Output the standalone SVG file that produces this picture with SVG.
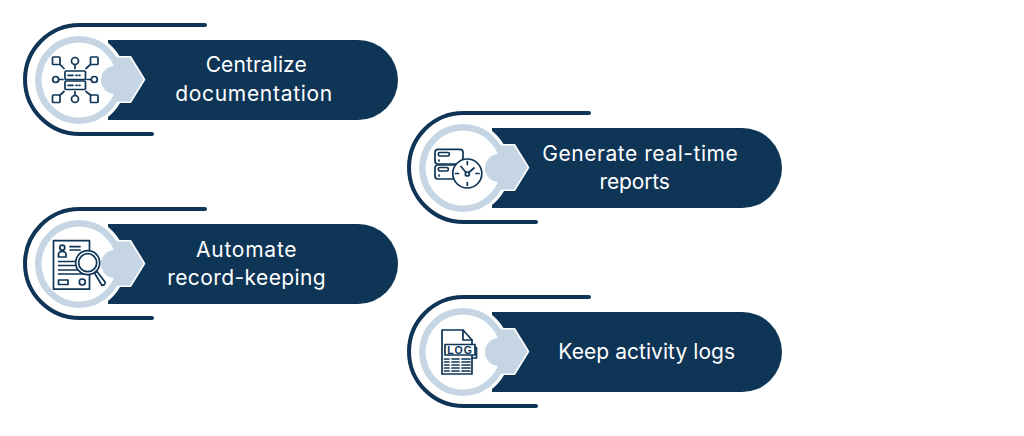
<svg xmlns="http://www.w3.org/2000/svg" width="1024" height="436" viewBox="0 0 1024 436">
<style>
.lbl{font-family:"Inter","Liberation Sans",sans-serif;font-size:21px;fill:#fff;text-anchor:middle}
.i{fill:none;stroke:#0e3456;stroke-width:1.7;stroke-linecap:round;stroke-linejoin:round}
.w{fill:#fff;stroke:#0e3456;stroke-width:1.7;stroke-linejoin:round}
.n{fill:#0e3456}
.l{fill:#c6d5e3}
</style>
<defs>
<g id="badge">
<path d="M205 25H79.500A54.500 54.500 0 0 0 79.500 134H152" fill="none" stroke="#0e3456" stroke-width="4" stroke-linecap="round"/>
<path d="M108 40H358A40 40 0 0 1 358 120H108Z" class="n"/>
<circle cx="79" cy="80" r="47" fill="#fff"/>
<path d="M100 56H131L145.500 79.500L131 103H100Z" fill="#fff"/>
<path d="M100 57.500H130L143.500 79.500L130 101.500H100Z" class="l"/>
<circle cx="79" cy="80" r="44" class="l"/>
<circle cx="79" cy="80" r="37.500" fill="#fff"/>
<circle cx="115" cy="80" r="14" class="l"/>
</g>
</defs>
<g id="node-1">
<use href="#badge"/>
<g class="i">
<rect x="65" y="71" width="20.500" height="8.500" rx="1"/><rect x="65" y="81" width="20.500" height="8.500" rx="1"/>
<path d="M68 75.300H73M76 75.300H77M79 75.300H80M68 85.300H73M76 85.300H77M79 85.300H80"/>
<rect x="52.500" y="57" width="7.500" height="7.500" rx="1"/><circle cx="75" cy="61" r="3.500"/><rect x="90.500" y="57" width="7.500" height="7.500" rx="1"/>
<circle cx="55.700" cy="79.500" r="3"/><circle cx="94.300" cy="79.500" r="3"/>
<rect x="52.500" y="95" width="7.500" height="7.500" rx="1"/><circle cx="75" cy="99" r="3.500"/><rect x="90.500" y="95" width="7.500" height="7.500" rx="1"/>
<path d="M60 64.500L64 68.500M75 64.500V68.500M90.500 64.500L86 68.500M58.700 79.500H63M87 79.500H91.300M60 95L64 91.500M75 91.500V95.500M90.500 95L86 91.500"/>
</g>
<text class="lbl" x="256.200" y="72.300" textLength="101">Centralize</text>
<text class="lbl" x="253.700" y="100.500" textLength="157">documentation</text>
</g>
<g id="node-2" transform="translate(384 88)">
<use href="#badge"/>
</g>
<g id="node-2-content">
<g class="i">
<rect x="435" y="149.300" width="28" height="14.700" rx="3"/><rect x="435" y="165" width="28" height="14" rx="3"/>
<rect x="438.300" y="152.500" width="11" height="3.500" rx="1.500"/><rect x="438.300" y="167.500" width="10" height="3.500" rx="1.500"/>
<path d="M439 160V161M439 175V176"/>
<circle class="w" cx="467.300" cy="173.500" r="14.500"/>
<path d="M467.300 161.500V164.500M467.300 182.500V185.500M455.500 173.500H458.500M476 173.500H479M461 166.500L466 172.500M474 168L468.800 172.500"/>
<circle cx="467.300" cy="174" r="2"/>
</g>
<text class="lbl" x="640" y="161" textLength="195.500">Generate real-time</text>
<text class="lbl" x="634.700" y="189" textLength="70.500">reports</text>
</g>
<g id="node-3" transform="translate(0 184)">
<use href="#badge"/>
</g>
<g id="node-3-content">
<g class="i">
<rect x="53.500" y="240.700" width="36" height="48.500"/>
<circle cx="62.300" cy="247.700" r="2.500"/>
<path d="M58.500 257V254.500Q58.500 251.500 62.300 251.500Q66 251.500 66 254.500V257ZM70 246.700H80M70 250H80M58.500 261.500H78M58.500 265.500H75M58.500 270H78M58.500 274H85"/>
<rect x="58.500" y="280" width="9.500" height="4.500"/><circle cx="82.300" cy="282" r="3"/>
<path d="M94.500 273L97 271.500L105 282Q105.500 285 102 285.500Z"/>
<circle class="w" cx="87.700" cy="262.700" r="12"/>
<circle class="w" cx="87.700" cy="262.700" r="9"/>
</g>
<text class="lbl" x="246.300" y="256.500" textLength="100.500">Automate</text>
<text class="lbl" x="246.500" y="284.700" textLength="158.500">record-keeping</text>
</g>
<g id="node-4" transform="translate(384 272)">
<use href="#badge"/>
</g>
<g id="node-4-content">
<g class="i">
<path d="M442 330H463L472 340V374H442Z"/><path d="M463 330V340H472"/>
<rect class="w" x="445" y="344.500" width="30" height="10.500"/>
<path d="M475 347.500H476.500V358H472M444.500 359H449M444.500 362H449M444.500 365H449M444.500 368H449M444.500 371H449M452 359H459M452 362H459M452 365H459M452 368H459M452 371H459M462 359H470M462 362H470M462 365H470M462 368H470M462 371H470"/>
</g>
<text x="460" y="353.500" text-anchor="middle" font-family="'Liberation Sans',sans-serif" font-weight="700" font-size="10.500" letter-spacing="1" fill="#0e3456">LOG</text>
<text class="lbl" x="646.700" y="359" textLength="176.700">Keep activity logs</text>
</g>
</svg>
